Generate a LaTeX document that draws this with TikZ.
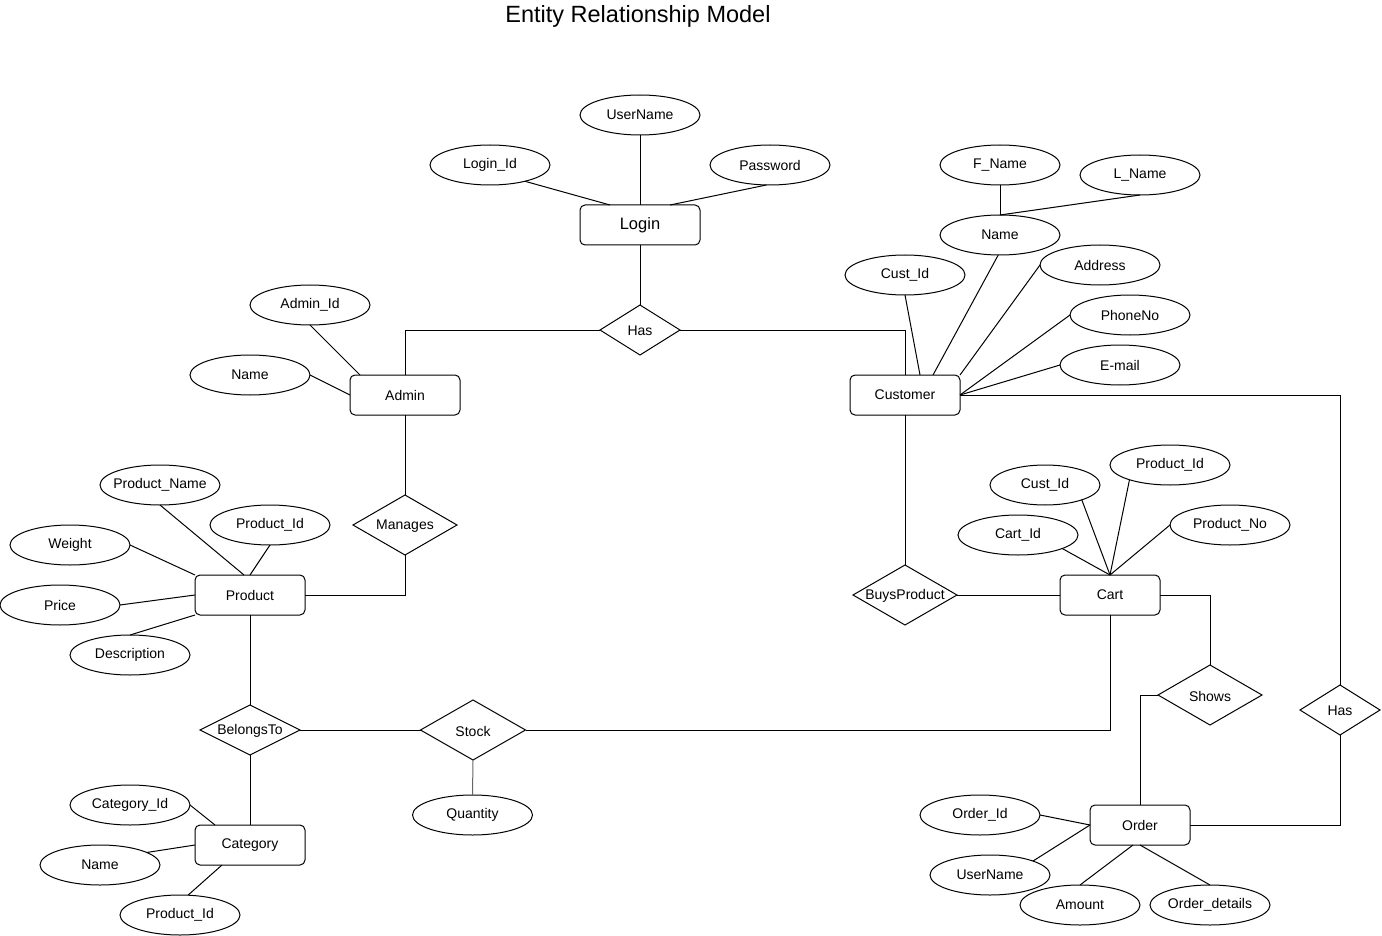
\documentclass[tikz,border=0pt]{standalone}
\usepackage{fontspec}
\setmainfont{Liberation Sans}
\usetikzlibrary{shapes.geometric,calc}
\begin{document}
\begin{tikzpicture}[x=1pt,y=-1pt, line width=1pt, font=\fontsize{14}{16}\selectfont,
  attr/.style={ellipse, draw, inner sep=0pt, outer sep=0pt, minimum width=120pt, minimum height=40pt},
  ent/.style={rectangle, draw, rounded corners=5pt, inner sep=0pt, outer sep=0pt, minimum width=110pt, minimum height=40pt},
  rel/.style={diamond, draw, inner sep=0pt, outer sep=0pt},
  every label/.style={inner sep=0pt, yshift=-1pt},
  conn/.style={draw, line width=1pt},
  lightconn/.style={draw, line width=1pt, black!60}]
\useasboundingbox (0,0) rectangle (1382,936);

\node[font=\fontsize{23.5}{26}\selectfont] (title) at (638,16) {Entity Relationship Model};

% entities
\node[ent, minimum width=120pt, font=\fontsize{16.5}{19}\selectfont] (login) at (640,225) {Login};
\node[ent] (admin) at (405,395) {Admin};
\node[ent] (customer) at (905,395) {Customer};
\node[ent] (product) at (250,595) {Product};
\node[ent] (category) at (250,845) {Category};
\node[ent, minimum width=100pt] (cart) at (1110,595) {Cart};
\node[ent, minimum width=100pt] (order) at (1140,825) {Order};

% relationships
\node[rel, minimum width=80pt, minimum height=50pt, label={center:Has}] (has1) at (640,330) {};
\node[rel, minimum width=104pt, minimum height=60pt, label={center:Manages}] (manages) at (405,525) {};
\node[rel, minimum width=100pt, minimum height=50pt, label={center:BelongsTo}] (belongs) at (250,730) {};
\node[rel, minimum width=105pt, minimum height=60pt, label={center:Stock}] (stock) at (473,730) {};
\node[rel, minimum width=104pt, minimum height=60pt, label={center:BuysProduct}] (buys) at (905,595) {};
\node[rel, minimum width=104pt, minimum height=60pt, label={center:Shows}] (shows) at (1210,695) {};
\node[rel, minimum width=80pt, minimum height=50pt, label={center:Has}] (has2) at (1340,710) {};

% attributes
\node[attr] (username) at (640,115) {UserName};
\node[attr] (loginid) at (490,165) {Login\_Id};
\node[attr] (password) at (770,165) {Password};
\node[attr] (adminid) at (310,305) {Admin\_Id};
\node[attr] (adminname) at (250,375) {Name};
\node[attr] (fname) at (1000,165) {F\_Name};
\node[attr] (lname) at (1140,175) {L\_Name};
\node[attr] (cname) at (1000,235) {Name};
\node[attr] (custid) at (905,275) {Cust\_Id};
\node[attr] (address) at (1100,265) {Address};
\node[attr] (phone) at (1130,315) {PhoneNo};
\node[attr] (email) at (1120,365) {E-mail};
\node[attr] (pname) at (160,485) {\makebox[0pt]{Product\_Name}};
\node[attr] (pid) at (270,525) {Product\_Id};
\node[attr] (weight) at (70,545) {Weight};
\node[attr] (price) at (60,605) {Price};
\node[attr] (desc) at (130,655) {Description};
\node[attr] (catid) at (130,805) {Category\_Id};
\node[attr] (catname) at (100,865) {Name};
\node[attr] (catpid) at (180,915) {Product\_Id};
\node[attr] (quantity) at (472.5,815) {Quantity};
\node[attr, minimum width=110pt] (cartcust) at (1045,485) {Cust\_Id};
\node[attr] (cartpid) at (1170,465) {Product\_Id};
\node[attr] (cartid) at (1018,535) {Cart\_Id};
\node[attr] (pno) at (1230,525) {Product\_No};
\node[attr] (orderid) at (980,815) {Order\_Id};
\node[attr] (ouser) at (990,875) {UserName};
\node[attr] (amount) at (1080,905) {Amount};
\node[attr] (odet) at (1210,905) {\makebox[0pt]{Order\_details}};

% login
\path[conn] (username) -- (login);
\path[conn] (loginid.-25) -- ($(login.north)+(-30,0)$);
\path[conn] (password.-100) -- ($(login.north)+(30,0)$);
\path[conn] (login) -- (has1);
\path[conn] (has1.west) -| (admin.north);
\path[conn] (has1.east) -| (customer.north);

% admin
\path[conn] (adminid.south) -- ($(admin.north west)+(10,0)$);
\path[conn] (adminname.east) -- (admin.west);
\path[conn] (admin) -- (manages);
\path[conn] (manages.south) |- (product.east);

% product
\path[conn] (pname.south) -- ($(product.north)+(-6,0)$);
\path[conn] (pid.south) -- (product.north);
\path[conn] (weight.east) -- (product.north west);
\path[conn] (price.east) -- (product.west);
\path[conn] (desc.north) -- (product.south west);
\path[conn] (product) -- (belongs);
\path[conn] (belongs) -- (category);
\path[conn] (belongs) -- (stock);
\path[conn] (stock.east) -| (cart.south);
\path[lightconn] (stock.south) -- (quantity.north);

% category
\path[conn] (catid.east) -- ($(category.north west)+(20,0)$);
\path[conn] (catname.15) -- (category.west);
\path[conn] (catpid.68) -- ($(category.south west)+(27,0)$);

% customer
\path[conn] (custid.south) -- ($(customer.north)+(15,0)$);
\path[conn] (cname.-95) -- ($(customer.north)+(28,0)$);
\path[conn] (address.west) -- (customer.north east);
\path[conn] (phone.west) -- (customer.east);
\path[conn] (email.west) -- (customer.east);
\path[conn] (fname) -- (cname);
\path[conn] (lname.south) -- (cname.north);
\path[conn] (customer) -- (buys);
\path[conn] (buys) -- (cart);
\path[conn] (customer.east) -| (has2.north);
\path[conn] (has2.south) |- (order.east);

% cart
\path[conn] (cartcust.-22) -- (cart.north);
\path[conn] (cartpid.200) -- (cart.north);
\path[conn] (cartid.-17) -- (cart.north);
\path[conn] (pno.west) -- (cart.north);
\path[conn] (cart.east) -| (shows.north);
\path[conn] (shows.west) -| (order.north);

% order
\path[conn] (orderid.east) -- (order.west);
\path[conn] (ouser.18) -- (order.west);
\path[conn] (amount.north) -- ($(order.south)+(-7,0)$);
\path[conn] (odet.north) -- (order.south);
\end{tikzpicture}
\end{document}
